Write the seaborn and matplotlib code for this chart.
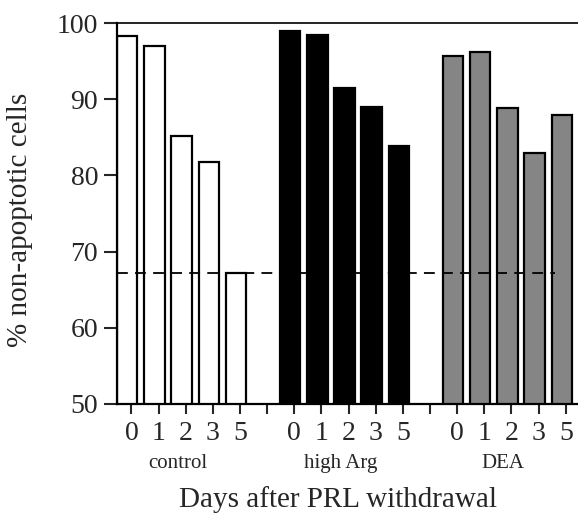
import matplotlib
matplotlib.use("Agg")
import matplotlib.pyplot as plt
import seaborn as sns
import pandas as pd

# Data
days = ["0", "1", "2", "3", "5"]
groups = ["control", "high Arg", "DEA"]
control = [98.3, 97.0, 85.2, 81.7, 67.2]
high_arg = [98.9, 98.4, 91.5, 89.0, 83.8]
dea = [95.7, 96.2, 88.9, 82.9, 87.9]
baseline = 67.2

colors = {"control": "white", "high Arg": "black", "DEA": "#858585"}

rows = []
slot = 0
for grp, vals in zip(groups, [control, high_arg, dea]):
    for d, v in zip(days, vals):
        rows.append({"pos": slot, "day": d, "group": grp, "value": v})
        slot += 1
    slot += 1  # empty slot between groups
df = pd.DataFrame(rows)

sns.set_style("ticks")
plt.rcParams["font.family"] = ["Liberation Serif", "DejaVu Serif"]

fig = plt.figure(figsize=(5.78, 5.17), dpi=100)
ax = fig.add_axes([0.2024, 0.2186, 0.7976, 0.7369])

sns.barplot(data=df, x="pos", y="value", hue="group", palette=colors,
            native_scale=True, width=0.75, edgecolor="black", linewidth=1.6,
            legend=False, ax=ax)

# reference level (control, day 5)
ax.axhline(baseline, xmin=0, xmax=0.95, color="black", linestyle=(0, (6, 4)),
           linewidth=1.3, zorder=5)

ax.set_ylim(50, 100)
ax.set_xlim(-0.38, 16.6)
ax.set_yticks([50, 60, 70, 80, 90, 100])
ax.tick_params(axis="y", labelsize=20, length=9.5, width=1.5, direction="out", pad=4)

ticks = list(range(17))
labels = []
k = 0
for t in ticks:
    if t in (5, 11):
        labels.append("")
    else:
        labels.append(df["day"].iloc[k])
        k += 1
ax.set_xticks([t + 0.15 for t in ticks])
ax.set_xticklabels(labels)
ax.tick_params(axis="x", labelsize=20, length=7, width=1.5, direction="out", pad=5)

for sp in ["left", "bottom"]:
    ax.spines[sp].set_linewidth(1.6)
    ax.spines[sp].set_color("black")
ax.spines["top"].set_linewidth(1.2)
ax.spines["top"].set_color("black")
ax.spines["right"].set_visible(False)

for grp in groups:
    center = df.loc[df["group"] == grp, "pos"].mean()
    ax.text(center - 0.15, -0.155, grp, transform=ax.get_xaxis_transform(),
            ha="center", va="center", fontsize=15)

ax.set_xlabel("Days after PRL withdrawal", fontsize=21, va="center")
ax.xaxis.set_label_coords(0.48, -0.252)
ax.set_ylabel("% non-apoptotic cells", fontsize=21, va="center")
ax.yaxis.set_label_coords(-0.21, 0.483)

fig.savefig("out.png", dpi=100)
